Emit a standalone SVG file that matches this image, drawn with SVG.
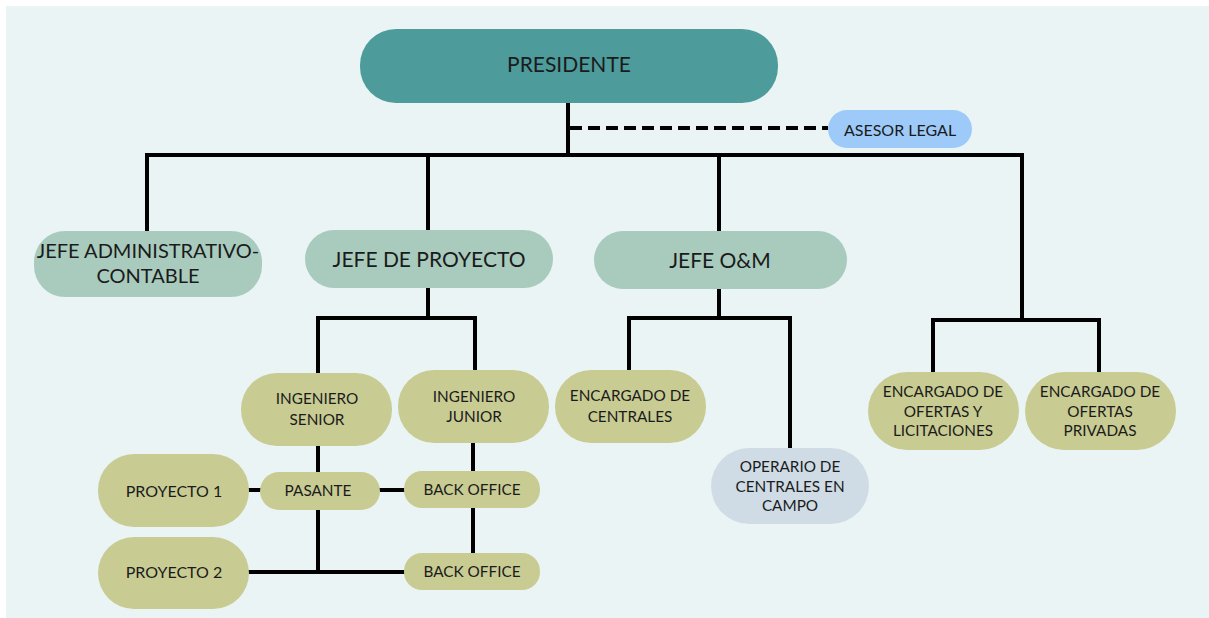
<svg xmlns="http://www.w3.org/2000/svg" width="1209" height="618" viewBox="0 0 1209 618">
<style>
  .t{font-family:Lato,"Open Sans","Liberation Sans",sans-serif;fill:#1b1b1b;text-anchor:middle;dominant-baseline:central}
  .l{fill:none;stroke:#000;stroke-width:4;stroke-linejoin:miter;stroke-linecap:square}
  .pres{fill:#4D9B9B}
  .l2{fill:#A8CBBE}
  .ol{fill:#C8CC93}
  .op{fill:#CFDCE6}
  .as{fill:#9DCAF9}
  .f15{font-size:15.3px}
  .f16{font-size:16px}
  .f20{font-size:20px}
  .f21{font-size:21px}
</style>
<rect x="0" y="0" width="1209" height="618" fill="#ffffff"/>
<rect x="6" y="6" width="1203" height="612" fill="#EAF4F5"/>
<g id="connectors">
  <path class="l" d="M568 103V155M147 231V155H1022V320M428 155V230M719 155V231"/>
  <path d="M570 128H828" fill="none" stroke="#000" stroke-width="4" stroke-dasharray="12,6"/>
  <path class="l" d="M428 288V318M318 373V318H475V370"/>
  <path class="l" d="M719 289V318M629 370V318H790V448"/>
  <path class="l" d="M933 372V320H1099V372"/>
  <path class="l" d="M318 446V472M318 510V572M249 572H404M249 490H260M380 490H404M473 443V471M473 508V553"/>
</g>
<g id="presidente"><rect class="pres" x="360" y="29" width="418" height="74" rx="36"/><text class="t f21" x="569" y="63">PRESIDENTE</text></g>
<g id="asesor"><rect class="as" x="828" y="110" width="144" height="38" rx="19"/><text class="t f16" x="900" y="129">ASESOR LEGAL</text></g>
<g id="jefe-admin"><rect class="l2" x="34" y="231" width="228" height="66" rx="31"/><text class="t f20" x="148" y="250">JEFE ADMINISTRATIVO-</text><text class="t f20" x="148" y="275">CONTABLE</text></g>
<g id="jefe-proyecto"><rect class="l2" x="305" y="230" width="248" height="58" rx="29"/><text class="t f21" x="429" y="258">JEFE DE PROYECTO</text></g>
<g id="jefe-om"><rect class="l2" x="594" y="231" width="253" height="58" rx="29"/><text class="t f21" x="720" y="259">JEFE O&amp;M</text></g>
<g id="ing-senior"><rect class="ol" x="241" y="373" width="151" height="73" rx="36"/><text class="t f15" x="317" y="398">INGENIERO</text><text class="t f15" x="317" y="419">SENIOR</text></g>
<g id="ing-junior"><rect class="ol" x="398" y="370" width="151" height="73" rx="36"/><text class="t f15" x="474" y="396">INGENIERO</text><text class="t f15" x="474" y="416">JUNIOR</text></g>
<g id="enc-centrales"><rect class="ol" x="555" y="370" width="151" height="73" rx="36"/><text class="t f15" x="630" y="395">ENCARGADO DE</text><text class="t f15" x="630" y="416">CENTRALES</text></g>
<g id="operario"><rect class="op" x="711" y="448" width="158" height="76" rx="38"/><text class="t f15" x="790" y="466">OPERARIO DE</text><text class="t f15" x="790" y="486">CENTRALES EN</text><text class="t f15" x="790" y="505">CAMPO</text></g>
<g id="enc-ofertas-lic"><rect class="ol" x="868" y="372" width="151" height="78" rx="39"/><text class="t f15" x="943" y="391">ENCARGADO DE</text><text class="t f15" x="943" y="411">OFERTAS Y</text><text class="t f15" x="943" y="430">LICITACIONES</text></g>
<g id="enc-ofertas-priv"><rect class="ol" x="1025" y="372" width="151" height="78" rx="39"/><text class="t f15" x="1100" y="391">ENCARGADO DE</text><text class="t f15" x="1100" y="411">OFERTAS</text><text class="t f15" x="1100" y="430">PRIVADAS</text></g>
<g id="proyecto1"><rect class="ol" x="98" y="454" width="151" height="73" rx="36"/><text class="t f16" x="174" y="490">PROYECTO 1</text></g>
<g id="proyecto2"><rect class="ol" x="98" y="537" width="151" height="72" rx="36"/><text class="t f16" x="174" y="571">PROYECTO 2</text></g>
<g id="pasante"><rect class="ol" x="260" y="472" width="120" height="38" rx="19"/><text class="t f15" x="318" y="490">PASANTE</text></g>
<g id="back-office-1"><rect class="ol" x="404" y="471" width="136" height="37" rx="18"/><text class="t f15" x="472" y="489">BACK OFFICE</text></g>
<g id="back-office-2"><rect class="ol" x="404" y="553" width="136" height="37" rx="18"/><text class="t f15" x="472" y="571">BACK OFFICE</text></g>
</svg>
